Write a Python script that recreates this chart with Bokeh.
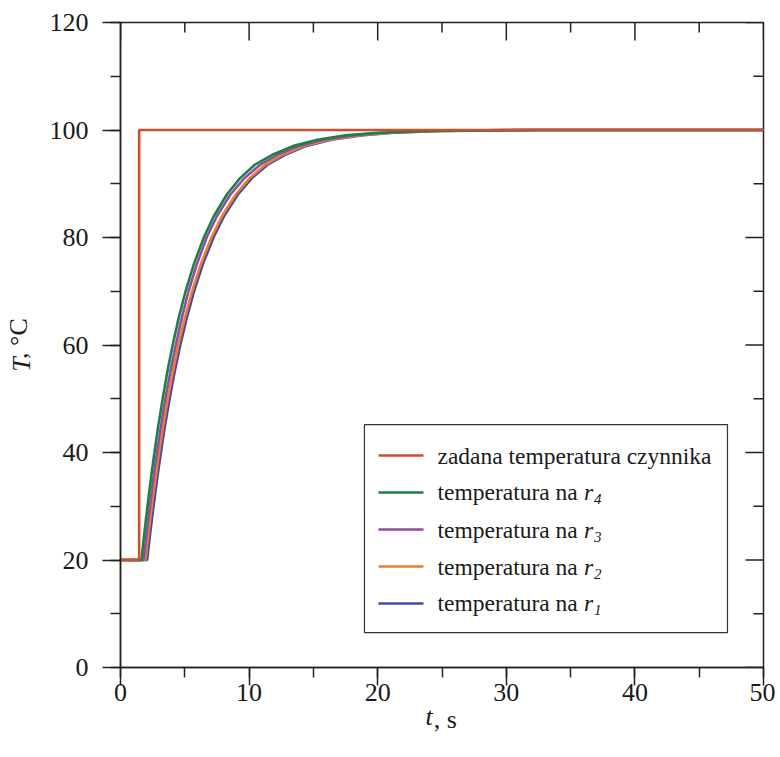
from bokeh.plotting import figure
from bokeh.models import SingleIntervalTicker, FixedTicker, LinearAxis, Label, Range1d
from bokeh.embed import file_html
from bokeh.resources import INLINE

# ---- data ----
t_set = [0.0, 1.45, 1.45, 50.0]
T_set = [20.0, 20.0, 100.0, 100.0]

T_lev = [20.0, 20.0, 24.0, 28.0, 32.0, 36.0, 40.0, 45.0, 50.0, 55.0, 60.0, 65.0, 70.0, 75.0, 80.0,
         84.0, 88.0, 91.0, 93.5, 95.5, 97.0, 98.2, 99.0, 99.5, 99.8, 100.0, 100.0]
t_r4 = [0.0, 1.63, 1.81, 2.00, 2.20, 2.41, 2.64, 2.94, 3.28, 3.64, 4.06, 4.52, 5.06, 5.70, 6.48,
        7.26, 8.27, 9.28, 10.42, 11.9, 13.4, 15.3, 17.5, 20.0, 23.5, 30.0, 50.0]
t_r3 = [0.0, 1.80, 1.99, 2.18, 2.39, 2.60, 2.84, 3.15, 3.49, 3.87, 4.30, 4.76, 5.29, 5.93, 6.70,
        7.50, 8.55, 9.62, 10.84, 12.3, 13.8, 15.8, 18.0, 20.5, 24.0, 31.0, 50.0]
t_r2 = [0.0, 1.94, 2.13, 2.33, 2.54, 2.77, 3.00, 3.33, 3.68, 4.07, 4.50, 5.00, 5.57, 6.24, 7.07,
        7.90, 8.96, 10.02, 11.23, 12.7, 14.2, 16.2, 18.5, 21.0, 24.5, 32.0, 50.0]
t_r1 = [0.0, 2.07, 2.26, 2.46, 2.68, 2.90, 3.14, 3.46, 3.82, 4.21, 4.65, 5.15, 5.72, 6.40, 7.23,
        8.06, 9.13, 10.20, 11.41, 12.9, 14.4, 16.4, 18.7, 21.2, 24.8, 33.0, 50.0]

legend_names = ["zadana temperatura czynnika", "temperatura na", "temperatura na", "temperatura na", "temperatura na"]
legend_subs = [None, "4", "3", "2", "1"]

x_symbol, x_unit = "t", ", s"
y_symbol, y_unit = "T", ", °C"

x_major = [0, 10, 20, 30, 40, 50]
x_minor = [5, 15, 25, 35, 45]
y_major = [0, 20, 40, 60, 80, 100, 120]
y_minor = [10, 30, 50, 70, 90, 110]

# ---- styles ----
C_SET = "#C9512E"
C_R4 = "#1B8049"
C_R3 = "#8E4F9F"
C_R2 = "#F07A30"
C_R1 = "#3A4EA2"
INK = "#1a1a1a"
AX = "#222222"
FONT = "Liberation Serif"
LW = 2.6
FW, FH = 643, 645
X0, X1, Y0, Y1 = 0, 50, 0, 120
px_x = (X1 - X0) / FW   # data units per pixel
px_y = (Y1 - Y0) / FH
NB = "\u00a0"
LABEL_H = 29

p = figure(frame_width=FW, frame_height=FH,
           x_range=Range1d(X0, X1), y_range=Range1d(Y0, Y1),
           output_backend="svg", toolbar_location=None,
           min_border_left=119, min_border_right=12,
           min_border_top=22, min_border_bottom=72,
           background_fill_color="white", border_fill_color="white")
p.grid.visible = False
p.outline_line_color = AX
p.outline_line_width = 1.5

p.xaxis.ticker = SingleIntervalTicker(interval=10, num_minor_ticks=2)
p.yaxis.ticker = SingleIntervalTicker(interval=20, num_minor_ticks=2)
for ax in list(p.xaxis) + list(p.yaxis):
    ax.major_tick_out = 18
    ax.major_tick_in = 0
    ax.minor_tick_out = 10
    ax.minor_tick_in = 0
    ax.axis_line_color = AX
    ax.axis_line_width = 1.5
    ax.major_tick_line_color = AX
    ax.minor_tick_line_color = AX
    ax.major_tick_line_width = 1.5
    ax.minor_tick_line_width = 1.5
    ax.major_label_text_font = FONT
    ax.major_label_text_font_size = "26px"
    ax.major_label_text_color = INK
    ax.axis_label_text_font = FONT
    ax.axis_label_text_font_size = "26px"
    ax.axis_label_text_color = INK
    ax.axis_label_text_font_style = "italic"
p.xaxis.major_label_standoff = -2
p.yaxis.major_label_standoff = 14
# italic symbol, padded so that the upright unit of a second axis title sits right after it
p.xaxis.axis_label = x_symbol + NB * 4
p.xaxis.axis_label_standoff = -2
p.yaxis.axis_label = y_symbol + NB * 6
p.yaxis.axis_label_standoff = 11


def unit_axis(text):
    return LinearAxis(ticker=FixedTicker(ticks=[]), axis_label=text,
                      axis_line_color=None, major_tick_line_color=None,
                      minor_tick_line_color=None, major_label_text_font_size="26px",
                      axis_label_text_font=FONT, axis_label_text_font_size="26px",
                      axis_label_text_color=INK, axis_label_text_font_style="normal",
                      axis_label_standoff=-LABEL_H)


p.add_layout(unit_axis(NB + x_unit), "below")
p.add_layout(unit_axis(NB * 2 + y_unit), "left")

# mirrored inside ticks on the top and right edges
p.segment(x0=x_major, x1=x_major, y0=[Y1] * len(x_major), y1=[Y1 - 18 * px_y] * len(x_major),
          line_color=AX, line_width=1.5)
p.segment(x0=x_minor, x1=x_minor, y0=[Y1] * len(x_minor), y1=[Y1 - 10 * px_y] * len(x_minor),
          line_color=AX, line_width=1.5)
p.segment(x0=[X1] * len(y_major), x1=[X1 - 18 * px_x] * len(y_major), y0=y_major, y1=y_major,
          line_color=AX, line_width=1.5)
p.segment(x0=[X1] * len(y_minor), x1=[X1 - 10 * px_x] * len(y_minor), y0=y_minor, y1=y_minor,
          line_color=AX, line_width=1.5)

# ---- curves ----
p.line(t_r1, T_lev, line_color=C_R1, line_width=LW)
p.line(t_r2, T_lev, line_color=C_R2, line_width=LW)
p.line(t_r3, T_lev, line_color=C_R3, line_width=LW)
p.line(t_r4, T_lev, line_color=C_R4, line_width=LW)
p.line(t_set, T_set, line_color=C_SET, line_width=LW)

# ---- manual legend (so that r and subscripts can be italic) ----
colors = [C_SET, C_R4, C_R3, C_R2, C_R1]
box_l, box_r, box_b, box_t = 18.97, 47.2, 6.5, 45.2
p.quad(left=[box_l], right=[box_r], bottom=[box_b], top=[box_t],
       fill_color="white", line_color="#333333", line_width=1.2)
row_y = [39.44, 32.56, 25.67, 18.79, 11.91]
sx0, sx1, tx = 20.06, 23.56, 24.65
for name, sub, c, yy in zip(legend_names, legend_subs, colors, row_y):
    p.line([sx0, sx1], [yy, yy], line_color=c, line_width=LW)
    p.add_layout(Label(x=tx, y=yy, text=name, text_font=FONT, text_font_size="23.5px",
                       text_baseline="middle", text_align="left", text_color=INK))
    if sub is not None:
        p.add_layout(Label(x=tx, y=yy, x_offset=146.5, text="r", text_font=FONT,
                           text_font_style="italic", text_font_size="23.5px",
                           text_baseline="middle", text_align="left", text_color=INK))
        p.add_layout(Label(x=tx, y=yy, x_offset=156.5, y_offset=-7, text=sub, text_font=FONT,
                           text_font_style="italic", text_font_size="15px",
                           text_baseline="middle", text_align="left", text_color=INK))

open("out.html", "w").write(file_html(p, INLINE))
